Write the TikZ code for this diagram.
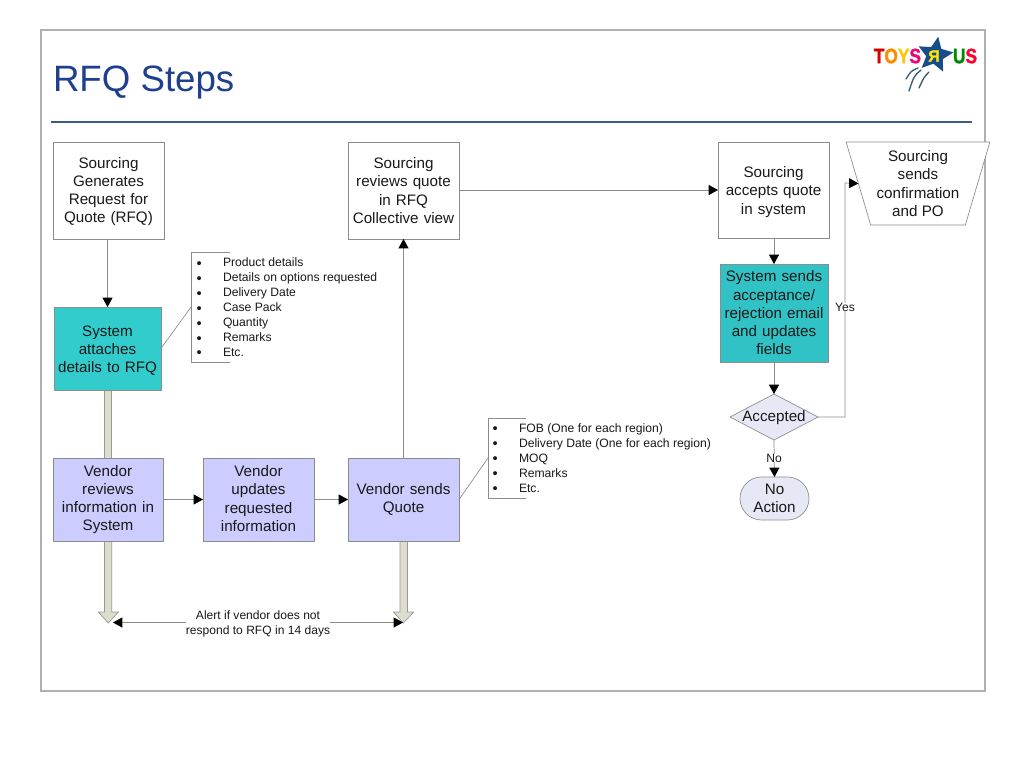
\documentclass[tikz,border=0pt]{standalone}
\usepackage{fontspec}
\setmainfont{Liberation Sans}
\newfontfamily\logofont{Liberation Sans}[BoldFeatures={FakeBold=1.6}]
\usetikzlibrary{shapes.geometric,shapes.misc,calc,arrows.meta}
\definecolor{teal1}{HTML}{33CCCC}
\definecolor{teal2}{HTML}{30C2C4}
\definecolor{lilac}{HTML}{CCCCFF}
\definecolor{pale}{HTML}{E6E9F5}
\definecolor{edgeg}{HTML}{8C8C8C}
\definecolor{fat}{HTML}{DDDDCC}
\definecolor{titleblue}{HTML}{1F3F8F}
\definecolor{ruleblue}{HTML}{3A5A8C}
\definecolor{starblue}{HTML}{154C8C}
\definecolor{streak}{HTML}{3A5A7A}
\newcommand{\lift}[1]{\rule{0pt}{#1pt}}
\tikzset{
 x=0.75pt,y=-0.75pt,
 every node/.style={inner sep=0pt,outer sep=0pt,font=\fontsize{11.4}{13.7}\selectfont,text=black!90},
 box/.style={draw=edgeg,line width=0.55pt,align=center,anchor=north west},
 whitebox/.style={box,fill=white},
 tealbox/.style={box,fill=teal1},
 lilacbox/.style={box,fill=lilac},
 flow/.style={draw=edgeg,line width=0.55pt,-{Triangle[black,length=7pt,width=7.5pt]}},
 leader/.style={draw=edgeg,line width=0.5pt},
 fatarrow/.style={draw=edgeg!90,line width=0.5pt,fill=fat},
 small/.style={font=\fontsize{9.12}{11.2}\selectfont,align=left,anchor=north west},
 dots/.style={font=\fontsize{11}{11.2}\selectfont,align=left,anchor=north west},
 tag/.style={font=\fontsize{9.05}{11}\selectfont,fill=white,align=center},
 streakline/.style={color=streak,line width=1pt,line cap=round},
 logoletters/.style={font=\logofont\fontsize{13}{13}\bfseries\selectfont,yscale=1.2},
}
\begin{document}
\begin{tikzpicture}
\useasboundingbox (0,0) rectangle (1024,768);
\fill[white] (0,0) rectangle (1024,768);
\draw[color=black!31,line width=2.2pt] (41,30) rectangle (985,691);
\node[anchor=base west,font=\fontsize{27.5}{30}\selectfont,text=titleblue] (title) at (53,91.5) {RFQ Steps};
\draw[color=ruleblue,line width=0.9pt] (51,122) -- (972,122);
% logo
\node[anchor=east,logoletters] (logot) at (921,56) {\textcolor{red!85!black}{T}\textcolor{orange!90!yellow}{O}\textcolor{yellow!60!orange}{Y}\textcolor{magenta!80!red}{S}};
\node[anchor=west,logoletters] (logou) at (953,56) {\textcolor{green!55!black}{U}\textcolor{red!80!magenta}{S}};
\node[star,star points=5,star point ratio=2.1,fill=starblue,minimum size=37*0.75pt,rotate=-10] (logostar) at (935,55) {};
\node[font=\logofont\fontsize{12}{12}\bfseries\selectfont,text=yellow!90!orange] (logor) at (934,56) {Я};
\draw[streakline] (918,68) .. controls (911,71) .. (906,79);
\draw[streakline] (921,70) .. controls (914,76) .. (909,91);
\draw[streakline] (929,72) .. controls (924,77) .. (919,88);
% fat arrows (behind boxes)
\coordinate (tipa) at (108.3,623);
\coordinate (tipb) at (403.3,623);
\filldraw[fatarrow] (104.5,390) rectangle (111.7,458);
\filldraw[fatarrow] (104.5,541) -- (111.7,541) -- (111.7,612) -- (118.5,612) -- (tipa) -- (98.3,612) -- (104.5,612) -- cycle;
\filldraw[fatarrow] (400,541) -- (407.5,541) -- (407.5,612) -- (413.7,612) -- (tipb) -- (393.5,612) -- (400,612) -- cycle;
% boxes
\node[whitebox,minimum height=97*0.75pt,text width=111*0.75pt] (src) at (53,142) {\lift{9.8}Sourcing\\Generates\\Request for\\Quote (RFQ)};
\node[tealbox,minimum height=83*0.75pt,text width=107*0.75pt] (att) at (54,307) {\lift{11}System\\attaches\\details to RFQ};
\node[lilacbox,minimum height=83*0.75pt,text width=110*0.75pt] (vr) at (53,458) {Vendor\\reviews\\information in\\System};
\node[lilacbox,minimum height=83*0.75pt,text width=111*0.75pt] (vu) at (203,458) {Vendor\\updates\\requested\\information\rule[-1.5pt]{0pt}{1.5pt}};
\node[lilacbox,minimum height=83*0.75pt,text width=111*0.75pt] (vs) at (348,458) {Vendor sends\\Quote};
\node[whitebox,minimum height=97*0.75pt,text width=111*0.75pt] (rev) at (348,142) {Sourcing\\reviews quote\\in RFQ\\Collective view};
\node[whitebox,minimum height=96*0.75pt,text width=111*0.75pt] (acp) at (718,142) {\lift{11}Sourcing\\accepts quote\\in system};
\node[box,fill=teal2,minimum height=98*0.75pt,text width=108*0.75pt] (sys) at (720,264) {System sends\\acceptance/\\rejection email\\and updates\\fields};
\node[draw=edgeg,line width=0.5pt,trapezium,shape border rotate=180,trapezium angle=72,trapezium stretches=true,minimum width=144*0.75pt,minimum height=83*0.75pt,fill=white,align=center] (conf) at (918,183.5) {Sourcing\\sends\\confirmation\\and PO};
\node[draw=edgeg,line width=0.5pt,diamond,aspect=1.9,fill=pale,minimum width=88*0.75pt,minimum height=46*0.75pt,align=center,inner sep=0pt] (dec) at (774,417) {};
\node (dect) at (774,418) {Accepted};
\node[draw=edgeg,line width=0.5pt,rounded rectangle,fill=pale,minimum width=69*0.75pt,minimum height=43*0.75pt,align=center] (noa) at (774.5,498.5) {No\\Action};
% callouts
\node[dots] (b1) at (196.5,261.5) {•\\•\\•\\•\\•\\•\\•};
\node[small] (d1) at (223,258) {Product details\\Details on options requested\\Delivery Date\\Case Pack\\Quantity\\Remarks\\Etc.};
\node[dots] (b2) at (492.5,427) {•\\•\\•\\•\\•};
\node[small] (d2) at (519,424) {FOB (One for each region)\\Delivery Date (One for each region)\\MOQ\\Remarks\\Etc.};
\coordinate (c1t) at (230,252); \coordinate (c1tl) at (191,252);
\coordinate (c1b) at (230,362); \coordinate (c1bl) at (191,362);
\coordinate (c1m) at (191,307);
\draw[leader] (c1t) -- (c1tl) -- (c1bl) -- (c1b);
\draw[leader] (att.east) -- (c1m);
\coordinate (c2t) at (526,418); \coordinate (c2tl) at (488,418);
\coordinate (c2b) at (526,498); \coordinate (c2bl) at (488,498);
\coordinate (c2m) at (488,458);
\draw[leader] (c2t) -- (c2tl) -- (c2bl) -- (c2b);
\draw[leader] (vs.east) -- (c2m);
% connectors
\draw[flow] (src.south -| att.north) -- (att.north);
\draw[flow] (vr.east) -- (vu.west);
\draw[flow] (vu.east) -- (vs.west);
\draw[flow] (vs.north) -- (rev.south);
\draw[flow] (rev.east |- acp.west) -- (acp.west);
\draw[flow] (acp.south -| sys.north) -- (sys.north);
\draw[flow] (sys.south) -- (dec.north);
\draw[flow] (dec.south) -- (noa.north);
\draw[flow] (dec.east) -| (845,183) -- (conf.west);
\node[tag] (yes) at (845,307) {Yes};
\node[tag] (no) at (774,458) {No};
\node[tag] (alert) at (258,624) {Alert if vendor does not\\respond to RFQ in 14 days};
\coordinate (arra) at (113,622.5);
\coordinate (arrb) at (403,622.5);
\draw[flow] (alert.west |- arra) -- (arra);
\draw[flow] (alert.east |- arrb) -- (arrb);
\end{tikzpicture}
\end{document}
